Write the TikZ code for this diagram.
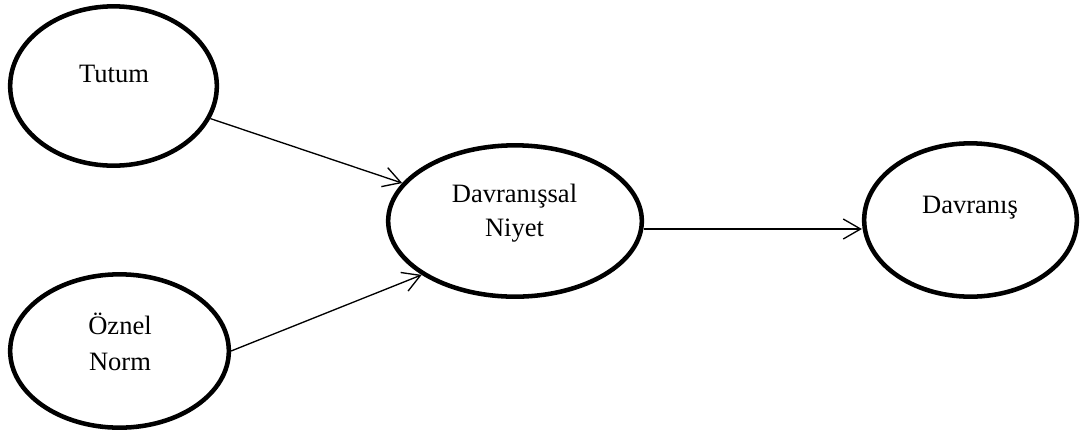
\documentclass[tikz,border=0pt]{standalone}
\usepackage{fontspec}
\setmainfont{Liberation Serif}
\usetikzlibrary{shapes.geometric,arrows.meta}
\begin{document}
\begin{tikzpicture}[x=0.75pt,y=-0.75pt,
  ell/.style={draw, ellipse, line width=3.4pt, inner sep=0pt},
  txt/.style={anchor=base, inner sep=0pt, align=center, font=\fontsize{19.9}{26.5}\selectfont},
  arr/.style={line width=1pt, -{Straight Barb[length=13pt,width=15pt]}}]
\useasboundingbox (0,0) rectangle (1081,437);
\node[ell, minimum width=155pt, minimum height=119.5pt] (tutum) at (113.5,86) {};
\node[ell, minimum width=164pt, minimum height=115pt] (oznel) at (119.5,351) {};
\node[ell, minimum width=190.25pt, minimum height=113.5pt] (niyet) at (515,221) {};
\node[ell, minimum width=159.5pt, minimum height=115pt] (davranis) at (970.5,220) {};
\node[txt] (tutumt) at (114,82) {Tutum};
\node[txt, font=\fontsize{19.9}{27}\selectfont] (oznelt) at (120,370) {Öznel\\Norm};
\node[txt, font=\fontsize{19.9}{25.5}\selectfont] (niyett) at (514.5,236) {Davranışsal\\Niyet};
\node[txt] (davranist) at (970,213) {Davranış};
\draw[arr] (tutum) -- (niyet);
\draw[arr] (oznel.east) -- (niyet.210);
\draw[arr] ([yshift=-6pt]niyet.east) -- ([yshift=-6pt]niyet.east -| davranis.west);
\end{tikzpicture}
\end{document}
